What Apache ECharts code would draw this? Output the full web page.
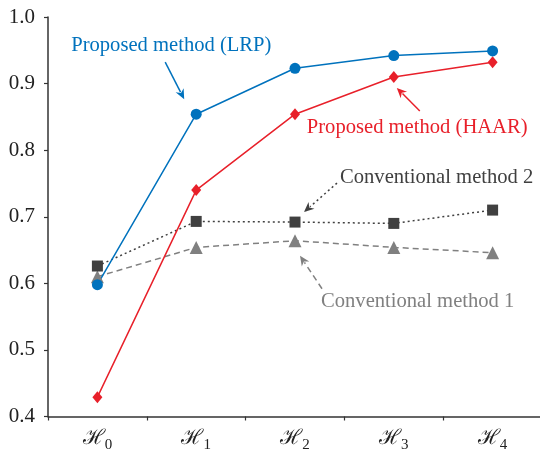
<!DOCTYPE html>
<html>
<head>
<meta charset="utf-8">
<script src="https://cdn.jsdelivr.net/npm/echarts@6/dist/echarts.min.js"></script>
<style>
    html, body { margin: 0; padding: 0; background: #fff; }
    #chart { width: 540px; height: 450px; }
</style>
</head>
<body>
<div id="chart"></div>
<script>
// categories (subscript index of H)
const categories = ['0', '1', '2', '3', '4'];
const yTicks = [0.4, 0.5, 0.6, 0.7, 0.8, 0.9, 1.0];

// series values
const lrp = [0.598, 0.854, 0.923, 0.942, 0.949];
const haar = [0.429, 0.740, 0.854, 0.910, 0.932];
const conv2 = [0.626, 0.693, 0.692, 0.690, 0.710];
const conv1 = [0.610, 0.654, 0.664, 0.654, 0.646];

const FONT = '"Liberation Serif", "DejaVu Serif", serif';
const BLUE = '#0072bd';
const RED = '#e8202a';
const DARK = '#404040';
const GRAY = '#808080';

const myChart = echarts.init(document.getElementById('chart'));

const option = {
    animation: false,
    grid: {
        left: 48,
        right: -2,
        top: 17,
        bottom: 33.5,
        containLabel: false,
        outerBoundsMode: 'none'
    },
    xAxis: {
        type: 'category',
        data: categories,
        boundaryGap: true,
        axisLine: { lineStyle: { color: '#333', width: 1.5 } },
        axisTick: { show: true, length: 4, lineStyle: { color: '#333', width: 1.2 } },
        axisLabel: {
            margin: 9,
            formatter: v => '{h|ℋ}{s|' + v + '}',
            rich: {
                h: { fontFamily: '"DejaVu Serif", serif', fontSize: 21, color: '#222' },
                s: { fontFamily: FONT, fontSize: 15, color: '#222', padding: [12, 0, 0, 0] }
            }
        },
        splitLine: { show: false }
    },
    yAxis: {
        type: 'value',
        min: 0.4,
        max: 1.0,
        interval: 0.1,
        axisLine: { show: true, lineStyle: { color: '#333', width: 1.5 } },
        axisTick: { show: true, length: 4, lineStyle: { color: '#333', width: 1.2 } },
        axisLabel: {
            margin: 13,
            fontFamily: FONT,
            fontSize: 21,
            color: '#222',
            formatter: v => yTicks.includes(Math.round(v * 10) / 10) ? v.toFixed(1) : ''
        },
        splitLine: { show: false }
    },
    series: [{
        name: 'Conventional method 1',
        type: 'line',
        data: conv1,
        symbol: 'triangle',
        symbolSize: 13,
        itemStyle: { color: GRAY },
        lineStyle: { color: GRAY, width: 1.5, type: [6, 4] }
    },
    {
        name: 'Conventional method 2',
        type: 'line',
        data: conv2,
        symbol: 'rect',
        symbolSize: 11,
        itemStyle: { color: DARK },
        lineStyle: { color: DARK, width: 1.5, type: [2, 3] }
    },
    {
        name: 'Proposed method (HAAR)',
        type: 'line',
        data: haar,
        symbol: 'diamond',
        symbolSize: [10, 12],
        itemStyle: { color: RED },
        lineStyle: { color: RED, width: 1.5 }
    },
    {
        name: 'Proposed method (LRP)',
        type: 'line',
        data: lrp,
        symbol: 'circle',
        symbolSize: 11,
        itemStyle: { color: BLUE },
        lineStyle: { color: BLUE, width: 1.5 }
    }
    ]
};

myChart.setOption(option);

// annotations: text + arrow, placed relative to a data point
const px = (i, v) => myChart.convertToPixel({ xAxisIndex: 0, yAxisIndex: 0 }, [i, v]);

function arrow(from, to, color, dash) {
    const dx = to[0] - from[0];
    const dy = to[1] - from[1];
    const len = Math.sqrt(dx * dx + dy * dy);
    const ux = dx / len, uy = dy / len;
    const hl = 10, hw = 4.5;
    const bx = to[0] - ux * hl, by = to[1] - uy * hl;
    return [{
        type: 'line',
        shape: { x1: from[0], y1: from[1], x2: bx + ux * 2, y2: by + uy * 2 },
        style: { stroke: color, lineWidth: 1.5, lineDash: dash || null }
    },
    {
        type: 'polygon',
        shape: {
            points: [
                [to[0], to[1]],
                [bx - uy * hw, by + ux * hw],
                [bx + ux * 3, by + uy * 3],
                [bx + uy * hw, by - ux * hw]
            ]
        },
        style: { fill: color }
    }
    ];
}

function label(text, x, y, color) {
    return {
        type: 'text',
        x: x,
        y: y,
        style: { text: text, fill: color, font: '20.6px ' + FONT, verticalAlign: 'middle', align: 'left' }
    };
}

const pL = px(1, lrp[1]);
const pH = px(3, haar[3]);
const pC2 = px(2, conv2[2]);
const pC1 = px(2, conv1[2]);

const elements = [].concat(
    [label('Proposed method (LRP)', pL[0] - 125, pL[1] - 69, BLUE)],
    arrow([pL[0] - 31, pL[1] - 52], [pL[0] - 12, pL[1] - 15], BLUE),
    [label('Proposed method (HAAR)', pH[0] - 87, pH[1] + 51, RED)],
    arrow([pH[0] + 26, pH[1] + 34], [pH[0] + 3, pH[1] + 11], RED),
    [label('Conventional method 2', pC2[0] + 45, pC2[1] - 44, DARK)],
    arrow([pC2[0] + 42, pC2[1] - 39], [pC2[0] + 9, pC2[1] - 10], DARK, [2, 3]),
    [label('Conventional method 1', pC1[0] + 26, pC1[1] + 61, GRAY)],
    arrow([pC1[0] + 27, pC1[1] + 48], [pC1[0] + 5, pC1[1] + 15], GRAY, [6, 4])
);

myChart.setOption({ graphic: { elements: elements } });

window.addEventListener('resize', () => {
    myChart.resize();
});
</script>
</body>
</html>
